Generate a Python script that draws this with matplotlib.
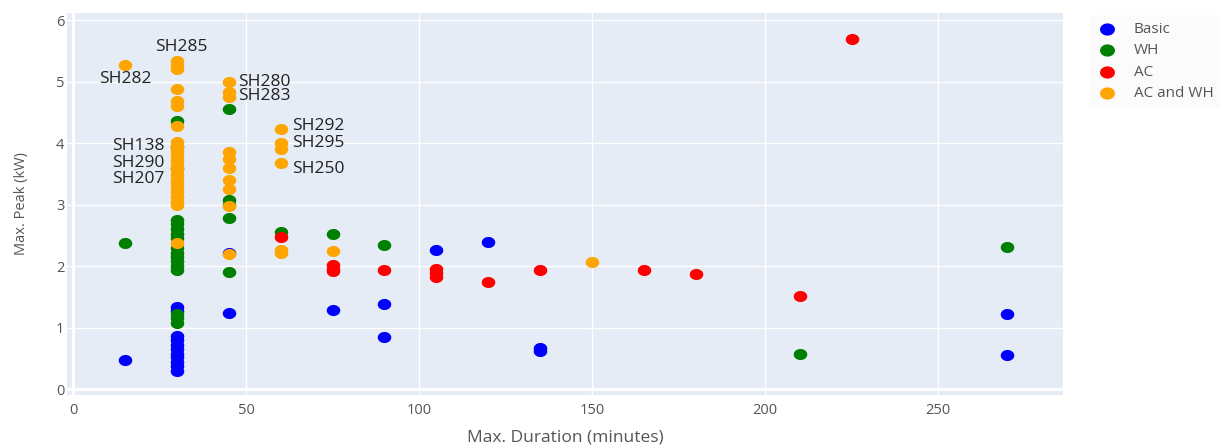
import matplotlib
matplotlib.use("Agg")
import matplotlib.pyplot as plt
import numpy as np
from matplotlib.path import Path

# ---------------- data ----------------
basic_x = [15] + [30] * 11 + [45, 45, 75, 90, 90, 105, 120, 135, 135, 270, 270]
basic_y = [0.47,
           1.34, 1.27, 0.87, 0.80, 0.72, 0.65, 0.58, 0.52, 0.45, 0.38, 0.30,
           2.22, 1.24, 1.29, 1.39, 0.85, 2.26, 2.39, 0.67, 0.62, 1.23, 0.56]

wh_x = [15] + [30] * 17 + [45] * 5 + [60, 75, 90, 210, 270]
wh_y = [2.38,
        4.36, 3.93, 3.60, 2.75, 2.68, 2.60, 2.52, 2.45, 2.30, 2.22, 2.15, 2.08, 2.00, 1.94, 1.23, 1.15, 1.07,
        4.55, 3.08, 3.00, 2.78, 1.90,
        2.56, 2.53, 2.34, 0.57, 2.31]

ac_x = [60, 75, 75, 75, 90, 105, 105, 105, 120, 135, 165, 180, 210, 225]
ac_y = [2.47, 2.02, 1.96, 1.92, 1.94, 1.95, 1.89, 1.83, 1.75, 1.94, 1.94, 1.88, 1.52, 5.69]

acwh_x = [15] + [30] * 23 + [45] * 10 + [60] * 6 + [75, 150]
acwh_y = [5.27,
          5.33, 5.27, 5.20, 4.88, 4.68, 4.60, 4.28, 4.02, 3.95, 3.88, 3.80, 3.72, 3.65, 3.58,
          3.50, 3.42, 3.35, 3.28, 3.20, 3.12, 3.05, 3.00, 2.38,
          5.00, 4.83, 4.75, 3.85, 3.75, 3.60, 3.40, 3.25, 2.97, 2.19,
          4.23, 4.01, 3.90, 3.68, 2.27, 2.22,
          2.24, 2.07]

series_names = ["Basic", "WH", "AC", "AC and WH"]

label_text = ["SH285", "SH282", "SH280", "SH283", "SH292", "SH295", "SH250", "SH138", "SH290", "SH207"]
label_x = [30, 15, 45, 45, 60, 60, 60, 30, 30, 30]
label_y = [5.33, 5.27, 5.00, 4.76, 4.23, 4.00, 3.68, 3.96, 3.67, 3.41]

x_ticks = [0, 50, 100, 150, 200, 250]
y_ticks = [0, 1, 2, 3, 4, 5, 6]

# ---------------- style ----------------
colors = ["#0000ff", "#008000", "#ff0000", "#ffa500"]
# label offsets in pixels (dx, dy up) and horizontal alignment
label_off = [(5, 14, "center"), (0, -14, "center"), (9.6, 0, "left"), (9.6, 0, "left"),
             (11.7, 3, "left"), (11.7, 0, "left"), (11.7, -6.6, "left"),
             (-12.5, 0, "right"), (-12.5, 0, "right"), (-12.5, 0, "right")]

plt.rcParams["font.family"] = ["Open Sans", "DejaVu Sans"]
TICK_C = "#555555"

W, H = 1223, 448
fig = plt.figure(figsize=(W / 100, H / 100), dpi=100)
L, R, T, B = 67, 1063, 12.7, 395
ax = fig.add_axes([L / W, (H - B) / H, (R - L) / W, (B - T) / H])
ax.set_facecolor("#e5ecf6")
for s in ax.spines.values():
    s.set_visible(False)

ax.set_xlim(-1.73, 286.1)
ax.set_ylim(-0.094, 6.12)
ax.set_xticks(x_ticks)
ax.set_yticks(y_ticks)
ax.grid(True, color="white", linewidth=1.0, zorder=0)
ax.set_axisbelow(True)
ax.axhline(0, color="white", linewidth=2.2, zorder=0.5)
ax.axvline(0, color="white", linewidth=2.2, zorder=0.5)
ax.tick_params(length=0, labelsize=10.5, colors=TICK_C)
ax.tick_params(axis="x", pad=6)
ax.tick_params(axis="y", pad=2)

# elliptical marker (plot is slightly stretched horizontally)
t = np.linspace(0, 2 * np.pi, 60)
ell = Path(np.column_stack([np.cos(t), 0.82 * np.sin(t)]), closed=True)

xs = [basic_x, wh_x, ac_x, acwh_x]
ys = [basic_y, wh_y, ac_y, acwh_y]
for i, (xv, yv) in enumerate(zip(xs, ys)):
    ax.scatter(xv, yv, s=95, marker=ell, color=colors[i], linewidths=0,
               label=series_names[i], zorder=3 + i, clip_on=False)

for txt, x, y, (dx, dy, ha) in zip(label_text, label_x, label_y, label_off):
    ax.annotate(txt, (x, y), xytext=(dx * 0.72, dy * 0.72), textcoords="offset points",
                ha=ha, va="center", fontsize=12.5, color="#222222", zorder=10)

ax.set_xlabel("Max. Duration (minutes)", fontsize=12.5, color=TICK_C, labelpad=8)
ax.set_ylabel("Max. Peak (kW)", fontsize=10.5, color=TICK_C, labelpad=19)

leg = fig.legend(loc="upper left", bbox_to_anchor=(1090 / W, 1 - 15 / H), frameon=True,
                 fontsize=11, labelcolor=TICK_C, handletextpad=1.1, borderpad=0.45,
                 labelspacing=0.42, markerscale=1.1, handlelength=1.3, borderaxespad=0)
leg.get_frame().set_facecolor("#fafafa")
leg.get_frame().set_edgecolor("none")
leg.get_frame().set_boxstyle("square", pad=0)

fig.savefig("out.png", dpi=100)
